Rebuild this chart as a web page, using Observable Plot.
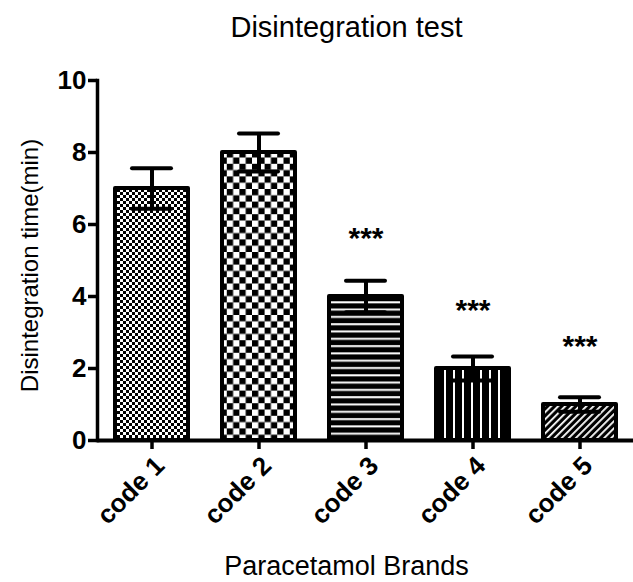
<!DOCTYPE html>
<html>
<head>
<meta charset="utf-8">
<script src="https://cdn.jsdelivr.net/npm/d3@7"></script>
<script src="https://cdn.jsdelivr.net/npm/@observablehq/plot@0.6"></script>
<style>
  html, body { margin: 0; padding: 0; background: white; }
</style>
</head>
<body>
<div id="chart"></div>
<script>
// ---- data ----
const codes = ["code 1", "code 2", "code 3", "code 4", "code 5"];
const means = [7.0, 8.0, 4.0, 2.0, 1.0];
const sems = [0.56, 0.53, 0.44, 0.33, 0.2];
const stars = ["", "", "***", "***", "***"];
const yTicks = [0, 2, 4, 6, 8, 10];
const titleText = "Disintegration test";
const xLabel = "Paracetamol Brands";
const yLabel = "Disintegration time(min)";
const patternFills = ["url(#pFine)", "url(#pCoarse)", "url(#pHoriz)", "url(#pVert)", "url(#pDiag)"];

const data = codes.map((c, i) => ({code: c, mean: means[i], sem: sems[i], star: stars[i]}));

const font = "'Liberation Sans', Arial, sans-serif";

const chart = Plot.plot({
  width: 633,
  height: 582,
  marginLeft: 97,
  marginRight: 0,
  marginTop: 80,
  marginBottom: 142,
  style: {fontFamily: font, background: "white", color: "black"},
  x: {domain: codes, paddingInner: 0.32, paddingOuter: 0.16, label: null},
  y: {domain: [0, 10], label: null},
  color: {domain: codes, range: patternFills},
  marks: [
    Plot.barY(data, {x: "code", y: "mean", fill: "code", stroke: "black", strokeWidth: 4, strokeLinejoin: "round"}),
    Plot.ruleX(data, {x: "code", y1: d => d.mean - d.sem, y2: d => d.mean + d.sem, stroke: "black", strokeWidth: 4}),
    Plot.tickY(data, {x: "code", y: d => d.mean + d.sem, stroke: "black", strokeWidth: 4, strokeLinecap: "round", insetLeft: 17, insetRight: 17}),
    Plot.tickY(data, {x: "code", y: d => d.mean - d.sem, stroke: "black", strokeWidth: 4, strokeLinecap: "round", insetLeft: 17, insetRight: 17}),
    Plot.text(data.filter(d => d.star), {x: "code", y: "mean", text: "star", dy: -58, fontSize: 30, fontWeight: "bold", lineAnchor: "middle"}),
    Plot.axisY({ticks: yTicks, tickSize: 9, tickPadding: 2, strokeWidth: 3.5, fontSize: 26, fontWeight: "bold", label: null}),
    Plot.axisX({text: null, tickSize: 9, strokeWidth: 3.5, label: null}),
    Plot.axisX({tickSize: 0, tickPadding: 13, tickRotate: -45, dx: 8, dy: 8, fontSize: 26, fontWeight: "bold", label: null}),
    Plot.ruleY([0], {strokeWidth: 4}),
    Plot.frame({anchor: "left", strokeWidth: 3.5}),
    Plot.text([yLabel], {frameAnchor: "left", textAnchor: "middle", rotate: -90, dx: -67, dy: 5, fontSize: 24, lineAnchor: "middle"}),
    Plot.text([xLabel], {frameAnchor: "bottom", dx: -19, dy: 126, fontSize: 27, lineAnchor: "middle"}),
    Plot.text([titleText], {frameAnchor: "top", dx: -19, dy: -53, fontSize: 29, lineAnchor: "middle"})
  ]
});

// pattern definitions used by the bar fills
const svg = d3.select(chart);
const defs = svg.insert("defs", ":first-child");
// fine checkerboard
let p = defs.append("pattern").attr("id", "pFine").attr("patternUnits", "userSpaceOnUse").attr("width", 6).attr("height", 6);
p.append("rect").attr("width", 6).attr("height", 6).attr("fill", "white");
p.append("rect").attr("width", 3).attr("height", 3).attr("fill", "black");
p.append("rect").attr("x", 3).attr("y", 3).attr("width", 3).attr("height", 3).attr("fill", "black");
// coarse checkerboard
p = defs.append("pattern").attr("id", "pCoarse").attr("patternUnits", "userSpaceOnUse").attr("width", 12.6).attr("height", 12.6);
p.append("rect").attr("width", 12.6).attr("height", 12.6).attr("fill", "white");
p.append("rect").attr("width", 6.3).attr("height", 6.3).attr("fill", "black");
p.append("rect").attr("x", 6.3).attr("y", 6.3).attr("width", 6.3).attr("height", 6.3).attr("fill", "black");
// horizontal white lines on black
p = defs.append("pattern").attr("id", "pHoriz").attr("patternUnits", "userSpaceOnUse").attr("width", 10).attr("height", 7.3);
p.append("rect").attr("width", 10).attr("height", 7.3).attr("fill", "black");
p.append("rect").attr("y", 2).attr("width", 10).attr("height", 2).attr("fill", "white");
// vertical white lines on black
p = defs.append("pattern").attr("id", "pVert").attr("patternUnits", "userSpaceOnUse").attr("width", 9).attr("height", 10);
p.append("rect").attr("width", 9).attr("height", 10).attr("fill", "black");
p.append("rect").attr("x", 3).attr("width", 2).attr("height", 10).attr("fill", "white");
// diagonal hatch
p = defs.append("pattern").attr("id", "pDiag").attr("patternUnits", "userSpaceOnUse").attr("width", 5).attr("height", 5).attr("patternTransform", "rotate(45)");
p.append("rect").attr("width", 5).attr("height", 5).attr("fill", "black");
p.append("rect").attr("x", 1).attr("width", 1.8).attr("height", 5).attr("fill", "white");

document.getElementById("chart").appendChild(chart);
</script>
</body>
</html>
